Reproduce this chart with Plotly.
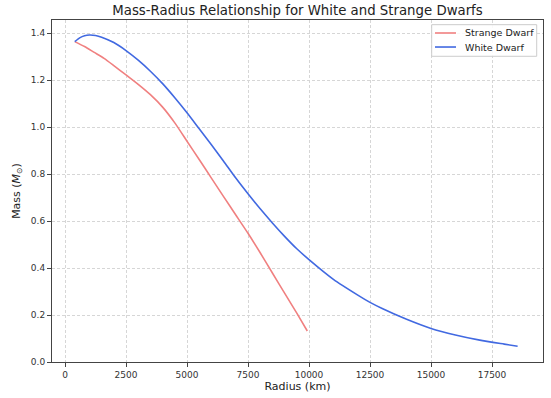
import plotly.graph_objects as go

strange_radius = [400, 800, 1200, 1600, 2000, 2500, 3000, 3500, 4000, 4500, 5000, 5500,
                  6000, 6500, 7000, 7500, 8000, 8500, 9000, 9500, 9930]
strange_mass = [1.364, 1.343, 1.318, 1.293, 1.262, 1.222, 1.182, 1.138, 1.085, 1.018, 0.940, 0.862,
                0.783, 0.704, 0.626, 0.548, 0.465, 0.379, 0.293, 0.208, 0.132]

white_radius = [400, 600, 800, 1000, 1250, 1500, 2000, 2500, 3000, 3500, 4000, 4500, 5000,
                5500, 6000, 6500, 7000, 7500, 8000, 8500, 9000, 9500, 10000, 11000, 12000,
                12500, 13000, 14000, 15000, 16000, 17000, 18000, 18550]
white_mass = [1.364, 1.380, 1.389, 1.392, 1.390, 1.383, 1.36, 1.326, 1.285, 1.238, 1.185, 1.125,
              1.061, 0.993, 0.925, 0.855, 0.783, 0.716, 0.652, 0.592, 0.535, 0.482, 0.436, 0.352,
              0.285, 0.254, 0.228, 0.182, 0.143, 0.115, 0.093, 0.076, 0.067]

series_names = ["Strange Dwarf", "White Dwarf"]
series_colors = ["#F08080", "#4169E1"]

x_ticks = [0, 2500, 5000, 7500, 10000, 12500, 15000, 17500]
y_ticks = [0.0, 0.2, 0.4, 0.6, 0.8, 1.0, 1.2, 1.4]

fig = go.Figure()
for name, color, xs, ys in zip(series_names, series_colors,
                               [strange_radius, white_radius], [strange_mass, white_mass]):
    fig.add_trace(go.Scatter(x=xs, y=ys, mode="lines", name=name, showlegend=False,
                             line=dict(color=color, width=1.6, shape="spline", smoothing=0.6)))

font = "DejaVu Sans, sans-serif"
axis_common = dict(
    showline=True, mirror=True, linecolor="#444444", linewidth=1,
    ticks="outside", ticklen=4, tickcolor="#444444", tickwidth=1,
    showgrid=True, gridcolor="#d6d6d6", griddash="3px,2px", gridwidth=1,
    zeroline=False, tickfont=dict(family=font, size=9, color="#333333"),
    automargin=False,
)

# Manual legend (paper coordinates) to match the compact matplotlib legend
shapes = [dict(type="rect", xref="paper", yref="paper", x0=0.7733, x1=0.9872, y0=0.8939, y1=0.9863,
               line=dict(color="#cccccc", width=1), fillcolor="rgba(255,255,255,0.85)", layer="above")]
annotations = []
row_y = [0.962, 0.921]
for name, color, ry in zip(series_names, series_colors, row_y):
    shapes.append(dict(type="line", xref="paper", yref="paper", x0=0.780, x1=0.8228, y0=ry, y1=ry,
                       line=dict(color=color, width=1.6), layer="above"))
    annotations.append(dict(text=name, xref="paper", yref="paper", x=0.8365, y=ry, xanchor="left",
                            yanchor="middle", showarrow=False,
                            font=dict(family=font, size=9.5, color="#222222")))

fig.update_layout(
    width=551, height=398,
    margin=dict(l=52, r=8, t=20, b=36, autoexpand=False),
    paper_bgcolor="white", plot_bgcolor="white",
    title=dict(text="Mass-Radius Relationship for White and Strange Dwarfs",
               xref="paper", x=0.5, xanchor="center", y=0.975, yanchor="middle",
               font=dict(family=font, size=13.3, color="#222222")),
    xaxis=dict(range=[-533, 19590], tickvals=x_ticks, ticktext=[str(v) for v in x_ticks],
               title=dict(text="Radius (km)", font=dict(family=font, size=11, color="#222222"), standoff=3),
               **axis_common),
    yaxis=dict(range=[0, 1.456], tickvals=y_ticks, ticktext=[f"{v:.1f}" for v in y_ticks],
               title=dict(text="Mass (<i>M</i><sub>⊙</sub>)", font=dict(family=font, size=11, color="#222222"), standoff=8),
               **axis_common),
    shapes=shapes,
    annotations=annotations,
    showlegend=False,
)

fig.write_html("out.html", config={"displayModeBar": False},
               post_script="document.body.style.margin='0';document.body.style.overflow='hidden';")
